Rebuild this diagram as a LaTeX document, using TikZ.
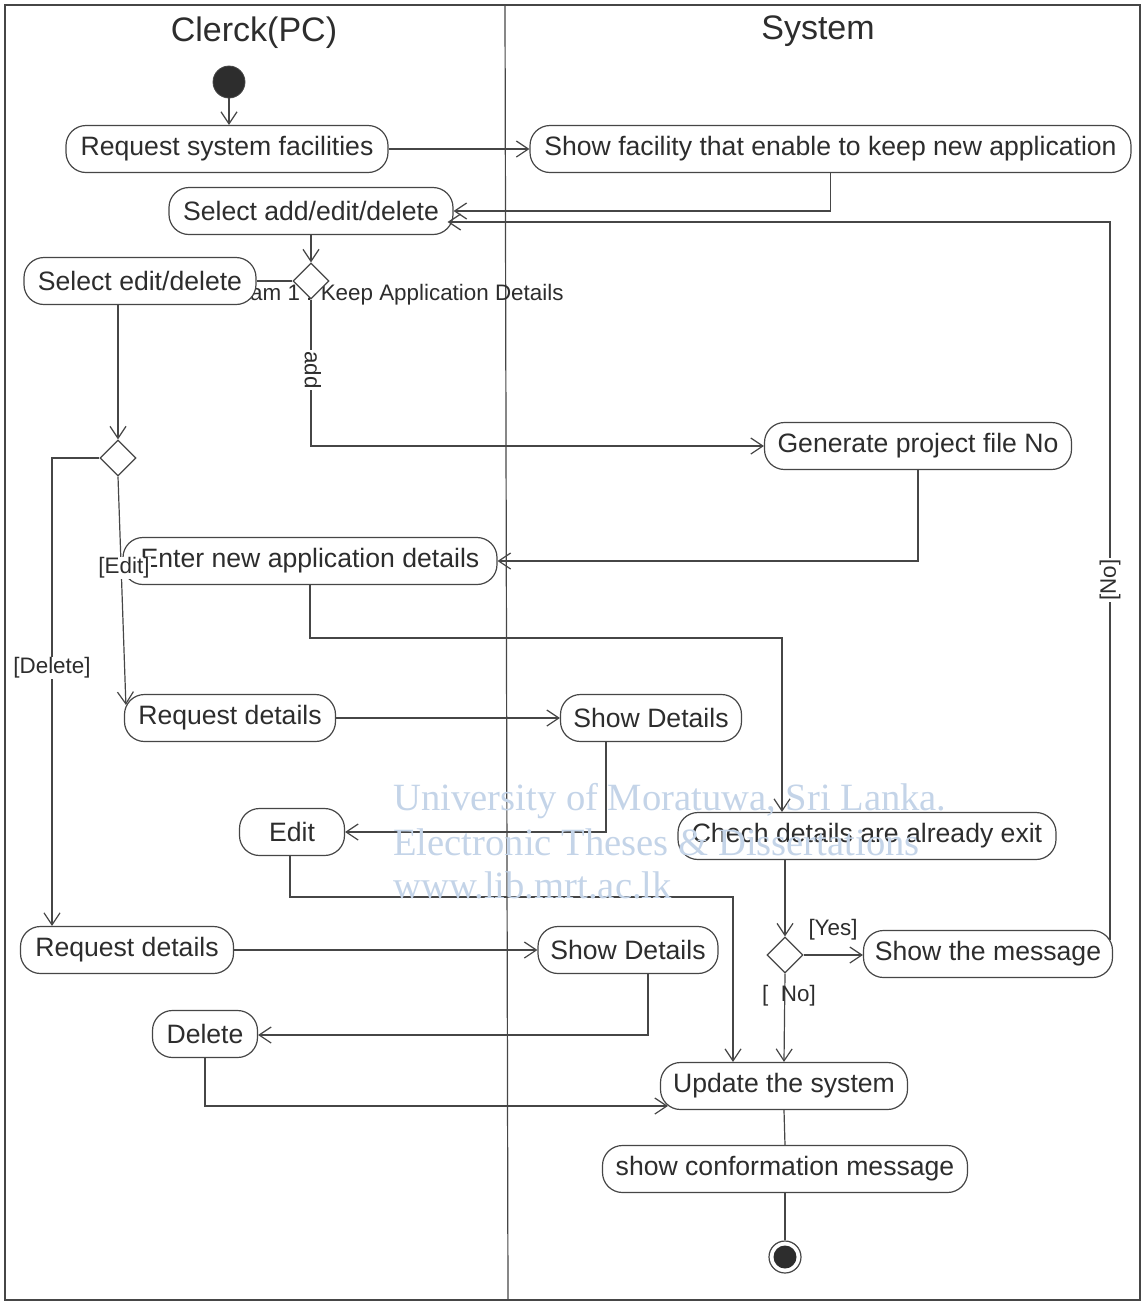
\documentclass[tikz,border=0pt]{standalone}
\usepackage{fontspec}
\setmainfont{Liberation Sans}
\newfontfamily\wmfont{Liberation Serif}
\usetikzlibrary{arrows.meta,shapes.geometric,calc}
\definecolor{linec}{RGB}{70,70,70}
\definecolor{textc}{RGB}{45,45,45}
\definecolor{wmc}{RGB}{196,212,232}
\begin{document}
\begin{tikzpicture}[x=0.5pt,y=-0.5pt,
  act/.style={draw=linec, line width=0.6pt, rounded corners=10pt, minimum height=23.5pt,
    inner sep=0pt, fill=white, text=textc, font=\fontsize{13.3}{16}\selectfont},
  dec/.style={draw=linec, line width=0.6pt, diamond, minimum width=18pt, minimum height=18pt,
    inner sep=0pt, fill=white},
  arr/.style={draw=linec, line width=0.6pt, -{Straight Barb[length=6pt,width=8pt]}},
  ln/.style={draw=linec, line width=0.6pt},
  lbl/.style={text=textc, font=\fontsize{11.2}{13}\selectfont, inner sep=0.5pt},
  ttl/.style={text=textc, font=\fontsize{17}{20}\selectfont},
  wm/.style={text=wmc, font=\wmfont\fontsize{19.3}{22}\selectfont, anchor=base west, inner sep=0pt}]
\useasboundingbox (0,0) rectangle (1145,1303);
% frame and lanes
\draw[ln] (5,5) rectangle (1140,1300);
\draw[ln] (505,5) -- (508,1300);
\node[ttl] (t1) at (254,33) {Clerck(PC)};
\node[ttl] (t2) at (818,31) {System};
% diagram label (partly hidden)
\node[lbl, anchor=base east] (dlab) at (565,300) {Diagram 1 : Keep Application Details};
% nodes
\node[circle, fill=textc, draw=linec, minimum size=16pt, inner sep=0pt] (init) at (229,82) {};
\node[act, minimum width=161pt] (rsf) at (227,149) {Request system facilities};
\node[act, minimum width=300.5pt] (sf) at (830.5,149) {Show facility that enable to keep new application};
\node[act, minimum width=142pt] (sad) at (311,211) {Select add/edit/delete};
\node[dec] (d1) at (311,281) {};
\node[act, minimum width=116pt] (sed) at (140,281) {Select edit/delete};
\node[dec] (d2) at (118,458) {};
\node[act, minimum width=153.5pt] (gen) at (918,446) {Generate project file No};
\node[act, minimum width=187pt] (ent) at (310,561) {Enter new application details};
\node[act, minimum width=105.5pt] (rq1) at (230,718) {Request details};
\node[act, minimum width=90.5pt] (sd1) at (651,718) {Show Details};
\node[act, minimum width=52.5pt] (ed) at (292,832) {Edit};
\node[act, minimum width=189pt] (chk) at (867,836) {Chech details are already exit};
\node[act, minimum width=106.5pt] (rd2) at (127,950) {Request details};
\node[act, minimum width=90pt] (sd2) at (628,950) {Show Details};
\node[dec] (d3) at (785,955) {};
\node[act, minimum width=124.5pt] (msg) at (988,954) {Show the message};
\node[act, minimum width=52.5pt] (del) at (205,1034) {Delete};
\node[act, minimum width=123.5pt] (upd) at (784,1086) {Update the system};
\node[act, minimum width=182.5pt] (cnf) at (785,1169) {show conformation message};
\node[circle, draw=linec, line width=0.6pt, fill=white, minimum size=16pt, inner sep=0pt] (fin) at (785,1257) {};
\node[circle, fill=textc, minimum size=11.5pt, inner sep=0pt] (fini) at (fin.center) {};
% bend coordinates
\coordinate (c0) at (1110,940);
\coordinate (c1) at (1110,222);
\coordinate (l1) at (782,638);
\coordinate (n1) at (606,832);
\coordinate (o1) at (290,897);
\coordinate (o2) at (733,897);
\coordinate (q1) at (648,1035);
\coordinate (r1) at (205,1106);
\coordinate (del1) at (52,458);
% connectors
\draw[arr] (init) -- (init |- rsf.north);
\draw[arr] (rsf.east) -- (sf.west);
\draw[arr] (sf.south) |- (sad.east);
\draw[arr] (c0) -- (c1) -- ([xshift=-3pt]c1 -| sad.east);
\draw[arr] (sad.south) -- (d1.north);
\draw[ln] (d1.west) -- (sed.east);
\draw[arr] (d1.south) |- (gen.west);
\draw[arr] (d2.north |- sed.south) -- (d2.north);
\draw[arr] (d2.west) -- (del1) -- (del1 |- rd2.north);
\draw[arr] (d2.south) -- ([xshift=1pt,yshift=-5.5pt]rq1.north west);
\draw[arr] (gen.south) |- (ent.east);
\draw[arr] (ent.south) |- (l1) -- (l1 |- chk.north);
\draw[arr] (rq1.east) -- (sd1.west);
\draw[arr] (n1 |- sd1.south) -- (n1) -- (ed.east);
\draw[arr] (o1 |- ed.south) -- (o1) -- (o2) -- (o2 |- upd.north);
\draw[arr] (rd2.east) -- (sd2.west);
\draw[arr] (q1 |- sd2.south) -- (q1) -- (q1 -| del.east);
\draw[arr] (del.south) -- (r1) -- ([xshift=4pt]r1 -| upd.west);
\draw[arr] (chk.south -| d3.north) -- (d3.north);
\draw[arr] (d3.east) -- (msg.west |- d3.east);
\draw[arr] (d3.south) -- (upd.north);
\draw[ln] (upd.south) -- (cnf.north);
\draw[ln] (cnf.south) -- (fin.north);
% guard labels
\node[lbl, fill=white, rotate=90] (lno) at (1110,580) {[No]};
\node[lbl, fill=white, rotate=-90] (ladd) at (313,370) {add};
\node[lbl, fill=white] (ldel) at (52,668) {[Delete]};
\node[lbl, fill=white] (ledit) at (124,568) {[Edit]};
\node[lbl] (lyes) at (833,930) {[Yes]};
\node[lbl] (lno2) at (789,996) {[\ \ No]};
% watermark
\node[wm] (w1) at (393,810) {University of Moratuwa, Sri Lanka.};
\node[wm] (w2) at (393,855) {Electronic Theses \& Dissertations};
\node[wm] (w3) at (393,898) {www.lib.mrt.ac.lk};
\end{tikzpicture}
\end{document}
